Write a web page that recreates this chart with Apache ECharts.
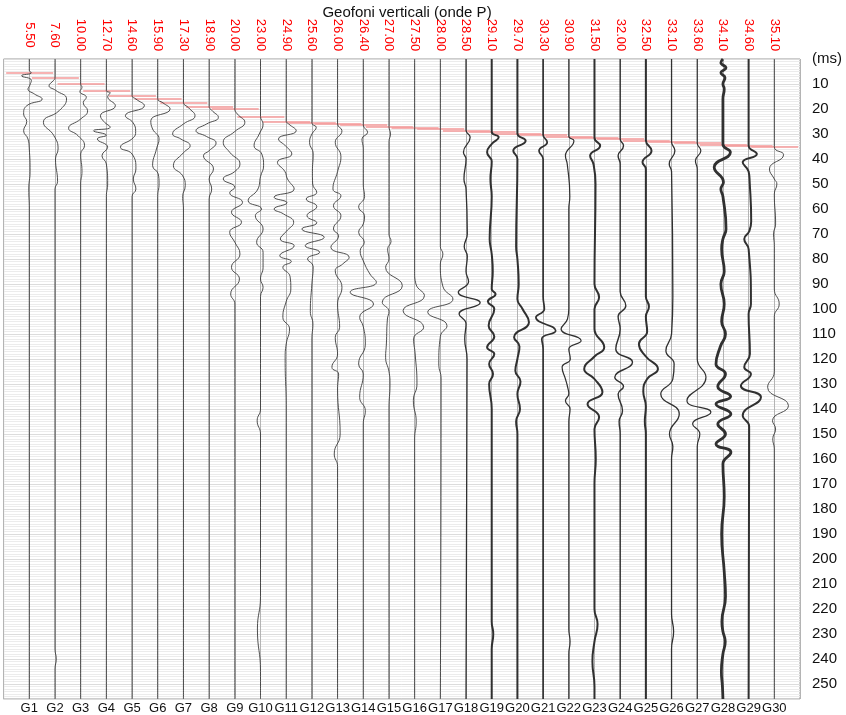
<!DOCTYPE html>
<html>
<head>
<meta charset="utf-8">
<title>Geofoni verticali (onde P)</title>
<script src="https://cdn.jsdelivr.net/npm/echarts@6/dist/echarts.min.js"></script>
<style>
  html, body { margin: 0; padding: 0; background: #fff; }
  #chart { width: 846px; height: 715px; }
</style>
</head>
<body>
<div id="chart"></div>
<script>
// Geophone names and first-arrival picks (ms)
const geophones = ['G1','G2','G3','G4','G5','G6','G7','G8','G9','G10','G11','G12','G13','G14','G15',
  'G16','G17','G18','G19','G20','G21','G22','G23','G24','G25','G26','G27','G28','G29','G30'];
const firstArrivals = [5.50, 7.60, 10.00, 12.70, 14.60, 15.90, 17.30, 18.90, 20.00, 23.00,
  24.90, 25.60, 26.00, 26.40, 27.00, 27.50, 28.00, 28.50, 29.10, 29.70,
  30.30, 30.90, 31.50, 32.00, 32.50, 33.10, 33.60, 34.10, 34.60, 35.10];
const timeTicks = [0, 10, 20, 30, 40, 50, 60, 70, 80, 90, 100, 110, 120, 130, 140, 150, 160, 170,
  180, 190, 200, 210, 220, 230, 240, 250];

// Trace samples: [time ms, normalised amplitude]
const g1 = [[0,0],[4.5,0],[5.5,0.08],[6.7,-0.3],[8.5,0.08],[10.5,0.02],[12,-0.05],[14,0.2],[16,0.5],[18.7,-0.1],[22,-0.22],[25,-0.1],[28.7,-0.22],[32,-0.05],[36,0],[45,0.03],[52,-0.02],[60,0],[256,0]];
const g2 = [[0,0],[7.6,0],[8.5,-0.05],[10.7,-0.23],[12.5,0.02],[16,0.45],[20.7,0.16],[25.3,-0.45],[30.7,-0.04],[36,0.12],[40,0.02],[49,0.1],[52,0],[236,0],[240,0.05],[244,0],[256,0]];
const g3 = [[0,0],[10,0],[11.3,0.05],[13,-0.03],[15.3,0.22],[17.5,0.1],[20.7,0.27],[24,0],[27.7,-0.47],[30.7,-0.1],[34.7,0.15],[38,0],[45,0.05],[50,0],[256,0]];
const g4 = [[0,0],[12.7,0],[13.5,0.15],[15,0.05],[18.7,0.35],[22.7,-0.23],[25,-0.1],[27.3,0.15],[28.7,-0.5],[30.5,0],[32,-0.35],[35.3,0.05],[38.7,-0.17],[42,0],[50,0.05],[55,0],[256,0]];
const g5 = [[0,0],[14.6,0],[16,0.15],[18.7,0.48],[22.7,-0.26],[25.5,0.04],[29,0.14],[31.5,0.05],[35.3,-0.45],[38,0],[44,0.15],[48,0.05],[52,0.15],[55,0],[256,0]];
const g6 = [[0,0],[15.9,0],[17.5,0.2],[20,0.48],[24.7,-0.27],[28,-0.2],[32,0.05],[36,-0.05],[42.7,-0.2],[46,0.02],[50,0.05],[55,0],[256,0]];
const g7 = [[0,0],[17.3,0],[19.5,0.2],[22.7,0.45],[26,0],[30,-0.42],[32,-0.1],[34.7,0.26],[37.5,0],[42.7,-0.39],[46.7,-0.03],[50.7,0.07],[55,-0.03],[60,0],[256,0]];
const g8 = [[0,0],[18.9,0],[20.5,0.1],[23.3,0.36],[26,-0.1],[28.7,-0.51],[31,-0.1],[33.6,0.27],[36.7,0],[38.7,-0.22],[44,0.17],[48,0],[52,0.1],[56,0],[256,0]];
const g9 = [[0,0],[20,0],[22,0.1],[25.3,0.39],[29,0],[33.3,-0.45],[37.3,-0.2],[42,0.2],[45,0],[48,-0.45],[51.3,0],[53.5,-0.2],[57.3,0.3],[61.3,-0.13],[65.3,0.26],[69.3,-0.2],[73.3,0],[78,0.2],[83.3,-0.13],[88,0.18],[94,-0.16],[98,0],[256,0]];
const g10 = [[0,0],[23,0],[26,0.1],[30,-0.05],[34.7,-0.25],[38,0.05],[42.7,0.12],[47,0],[52,-0.1],[56.7,-0.48],[60,0.04],[62.7,-0.2],[68,0.1],[73.3,-0.15],[77.3,0.1],[83.3,0.1],[88,0],[91.3,0.1],[95,0],[140,0],[144.7,-0.13],[150,0],[215,0],[228,-0.12],[245,0],[256,0]];
const g11 = [[0,0],[24.9,0],[26,0.1],[28.7,0.39],[32,-0.3],[35,0],[38,0.22],[41.3,-0.34],[45,-0.05],[48,0.05],[52,0.31],[55.3,-0.47],[57.5,0.03],[60,-0.47],[62,-0.1],[65.3,0.29],[69,0],[72,-0.23],[74.7,0.31],[78.7,-0.25],[81,0.2],[83.3,-0.13],[87,0.15],[92,0.18],[97,0],[103.3,-0.13],[108,0.13],[114,0],[120,-0.04],[140,0],[256,0]];
const g12 = [[0,0],[25.6,0],[27.3,0.17],[30,0],[33.3,-0.09],[38,0.05],[45,0.02],[50,0.03],[53.3,0.19],[56,-0.22],[59,0.19],[62.7,-0.19],[65.5,0.19],[68,-0.39],[71.3,0.48],[74.7,-0.26],[77.3,0.3],[80,-0.17],[83,0.05],[90,0],[101,-0.06],[106,0.04],[112,0],[256,0]];
const g13 = [[0,0],[26,0],[28.7,0.17],[33.3,-0.09],[39,0.13],[45,0],[52,-0.18],[54.7,0.13],[58.7,-0.16],[62.7,0.13],[68,-0.16],[70.7,0.04],[75.3,-0.26],[79.3,0.45],[82,0.2],[84.7,-0.09],[91.3,0.17],[98,0],[107.3,0.08],[111.3,-0.09],[118,0],[123.3,-0.22],[126,0.04],[132,0],[150,0.1],[158,-0.13],[163,0],[256,0]];
const g14 = [[0,0],[26.4,0],[29.3,0.17],[32,-0.05],[36,0],[50,0],[55,0.05],[59.3,-0.18],[62.7,0.05],[66,0],[69.3,-0.18],[73.3,0.04],[76.7,-0.12],[80.7,0],[86,0.26],[89.3,0.51],[93.3,-0.51],[98,0.4],[103.3,-0.14],[107,0],[114,0.08],[122,-0.18],[126,0],[135.3,-0.14],[140.7,0.08],[146,0],[256,0]];
const g15 = [[0,0],[27,0],[30,0.06],[33,0],[70,0],[73,0.08],[76,-0.05],[80,0],[83.3,-0.13],[90.7,0.52],[97.3,-0.26],[101,0],[104,-0.06],[114,-0.1],[119.3,-0.13],[125,0],[130,0.04],[140,0],[256,0]];
const g16 = [[0,0],[27.5,0],[85,0],[90,0.05],[94.7,0.38],[100.7,-0.45],[107.3,0.35],[112,-0.04],[118,0.02],[130,0.09],[136.7,-0.05],[145,0.06],[152,0],[256,0]];
const g17 = [[0,0],[28,0],[75,0],[78,0.1],[82,0],[91,0.1],[96,0.49],[101.3,-0.49],[106.7,0.26],[111,0],[122,-0.06],[128,0.03],[256,0]];
const g18 = [[0,0],[28.5,0],[31.3,0.16],[37.3,-0.1],[40,0],[48,-0.08],[52,0],[70,0.05],[75,-0.07],[79,0.05],[85,0],[89,0.1],[93.3,-0.3],[97.5,0.55],[102,-0.27],[106,0],[112,-0.05],[120,0.04],[256,0]];
const g19 = [[0,0],[29.1,0],[31.3,0.27],[34,0],[37.3,-0.18],[41,0],[48,-0.05],[55,0],[72,-0.08],[78,0],[85,0.04],[92,0],[94,0.15],[97,-0.15],[100,0.1],[106.7,-0.12],[111,0.1],[115.3,-0.18],[118,0.1],[122,-0.1],[126,0.05],[130,-0.1],[140,0],[225,0],[230,0.06],[236,0],[256,0]];
const g20 = [[0,0],[29.7,0],[32.7,0.32],[36.7,-0.16],[40,0],[75,-0.05],[80,0],[90,0.05],[96,0],[100,0.2],[105.3,0.45],[111.3,-0.13],[115,0.08],[120,0],[124.7,-0.08],[129,0.12],[134,0],[140,0.1],[145,-0.05],[150,0],[256,0]];
const g21 = [[0,0],[30.3,0],[33.3,0.16],[36.7,-0.16],[40,0],[95,0],[100,0.05],[103.3,-0.28],[108.7,0.49],[112,-0.05],[116,0],[256,0]];
const g22 = [[0,0],[30.9,0],[32.7,0.2],[38.7,-0.13],[42,-0.06],[55,0.04],[60,0],[100,0],[104,-0.05],[108,-0.3],[112.7,0.48],[116,0],[120,0.06],[123.3,-0.26],[128,-0.13],[131,-0.05],[134,0],[136.7,-0.13],[140,0.05],[145,0],[228,0],[233,0.05],[238,0],[256,0]];
const g23 = [[0,0],[31.5,0],[34.7,0.22],[38.7,-0.17],[42,-0.04],[50,0.04],[90,0],[95.3,0.18],[100,0],[108,0],[115.3,0.38],[119,0],[124,-0.4],[128,0],[133.3,0.31],[138,-0.27],[143.3,0.18],[148,0],[160,0.05],[170,0],[220,0],[226,0.12],[233,0],[241,-0.08],[251,0],[256,0]];
const g24 = [[0,0],[32,0],[34.7,0.13],[38.7,-0.08],[42,0],[93,0],[98.7,0.22],[103,-0.08],[108,0],[116,-0.17],[121.3,0.48],[127.3,-0.21],[131,0.13],[134,-0.08],[140.7,0.09],[145,-0.04],[150,0],[256,0]];
const g25 = [[0,0],[32.5,0],[36.7,0.22],[41.3,-0.13],[44,0],[95,0],[99,0.12],[103,0],[109,0.05],[114,-0.27],[119,0],[124,0.47],[128,0.05],[133,-0.1],[139,0],[145,-0.04],[150,0],[256,0]];
const g26 = [[0,0],[33.1,0],[36.7,0.13],[42,-0.09],[45,0],[95,0.05],[110,0],[116.7,-0.22],[122,0.1],[128,0.05],[134,-0.42],[142,0.3],[150,-0.08],[155,0.05],[160,0],[222,0],[229,0.08],[236,0],[256,0]];
const g27 = [[0,0],[33.6,0],[36.7,0.14],[40.7,-0.07],[44,0],[120,0],[127.3,0.34],[136.7,-0.4],[141.3,0.53],[146,-0.18],[150,0.1],[155,0],[256,0]];
const g28 = [[0,0],[1.5,-0.08],[3.5,0.12],[5.5,-0.08],[7.5,0.08],[10,0],[12,0.05],[16,0],[34.1,0],[37.3,0.29],[43.3,-0.34],[49.3,0.02],[52,-0.08],[55,0],[68,0.12],[72,0],[76,-0.05],[85,0.05],[90,-0.08],[98,0.05],[105,-0.05],[110,0.1],[115,-0.1],[122,-0.27],[126,0.1],[131,-0.2],[135,0.3],[138,-0.27],[142,0.31],[146,-0.2],[150,0.1],[154,-0.27],[157.3,0.31],[162,0],[175,0.05],[190,-0.05],[205,0.05],[215,0.1],[225,-0.04],[229,0],[233,0.09],[238,0],[245,-0.06],[251,-0.02],[256,0]];
const g29 = [[0,0],[34.6,0],[38,0.32],[41.3,-0.23],[45,0],[49,0.04],[65,0.1],[69,0.02],[72,-0.17],[76,0],[98,0.09],[102,0],[118,0.05],[123.3,-0.17],[126,0.09],[130.7,-0.3],[135.3,0.48],[142.7,-0.23],[147,0.02],[256,0]];
const g30 = [[0,0],[35.1,0],[38.3,0.36],[44,-0.19],[48,0],[50,0.1],[54,0],[66,0.05],[70,-0.03],[75,0],[92,0],[98,0.19],[103,0],[125,0],[131.3,-0.26],[138.7,0.55],[144.7,-0.07],[148,0.05],[152,-0.06],[156,0],[256,0]];

const traces = [g1,g2,g3,g4,g5,g6,g7,g8,g9,g10,g11,g12,g13,g14,g15,g16,g17,g18,g19,g20,g21,g22,g23,g24,g25,g26,g27,g28,g29,g30];

// Heavier pen for the noisier channels
const penWidth = [0.9,0.9,0.9,0.9,0.9,0.9,0.9,0.9,0.9,0.9,0.9,0.9,0.9,0.9,0.9,0.9,0.9,1.3,2,2,1.7,1.2,2,1.4,2,1.3,1.2,2.8,2,0.9];

const TEXT_FONT = 'Liberation Sans, Arial, sans-serif';

const pickSeries = {
  type: 'lines',
  coordinateSystem: 'cartesian2d',
  silent: true,
  z: 2,
  lineStyle: { color: '#f49a9a', width: 1.5, opacity: 1 },
  data: firstArrivals.map((t, i) => ({ coords: [[i + 1 - 0.9, t], [i + 1 + 0.93, t]] }))
};

const traceSeries = traces.map((tr, i) => ({
  name: geophones[i],
  type: 'line',
  smooth: 0.5,
  showSymbol: false,
  silent: true,
  z: 3,
  lineStyle: { color: i >= 17 && i <= 28 ? '#303030' : '#3c3c3c', width: penWidth[i] },
  data: tr.map(([t, a]) => [i + 1 + a, t])
}));

const chart = echarts.init(document.getElementById('chart'), null, { renderer: 'canvas' });
chart.setOption({
  animation: false,
  backgroundColor: '#ffffff',
  title: {
    text: 'Geofoni verticali (onde P)',
    left: 402,
    top: 0,
    textAlign: 'center',
    textStyle: { fontFamily: TEXT_FONT, fontSize: 15, fontWeight: 'normal', color: '#111' }
  },
  grid: { left: 3.6, right: 46, top: 59, bottom: 15, show: true, borderColor: '#9a9a9a', borderWidth: 1, backgroundColor: 'transparent' },
  xAxis: [{
    type: 'value', position: 'bottom', min: 0, max: 31, interval: 1,
    axisLine: { show: false }, axisTick: { show: false },
    splitLine: { show: true, lineStyle: { color: '#b4b4b4', width: 1 } },
    axisLabel: {
      margin: 3, fontFamily: TEXT_FONT, fontSize: 13, color: '#111',
      formatter: v => (v >= 1 && v <= 30 ? geophones[v - 1] : '')
    }
  }, {
    type: 'value', position: 'top', min: 0, max: 31, interval: 1,
    axisLine: { show: false }, axisTick: { show: false }, splitLine: { show: false },
    axisLabel: {
      rotate: 90, margin: 24, align: 'center', verticalAlign: 'middle',
      fontFamily: TEXT_FONT, fontSize: 13, color: '#ff0000',
      formatter: v => (v >= 1 && v <= 30 ? firstArrivals[v - 1].toFixed(2) : '')
    }
  }],
  yAxis: {
    type: 'value', position: 'right', inverse: true, min: 0, max: 256, interval: 10,
    axisLine: { show: false }, axisTick: { show: false },
    axisLabel: {
      margin: 12, fontFamily: TEXT_FONT, fontSize: 15, color: '#111', showMaxLabel: false,
      formatter: v => (v === 0 ? '(ms)' : (timeTicks.includes(v) ? String(v) : ''))
    },
    splitLine: { show: true, lineStyle: { color: '#dcdcdc', width: 1 } },
    minorTick: { show: false, splitNumber: 10 },
    minorSplitLine: { show: true, lineStyle: { color: '#ececec', width: 1 } }
  },
  series: [pickSeries].concat(traceSeries)
});
</script>
</body>
</html>
